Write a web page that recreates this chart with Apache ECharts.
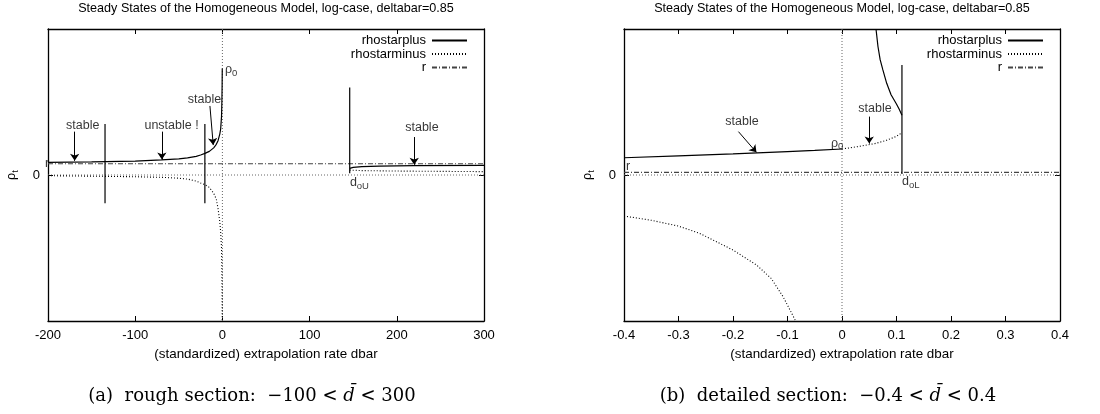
<!DOCTYPE html>
<html><head><meta charset="utf-8">
<script src="https://cdn.jsdelivr.net/npm/echarts@6/dist/echarts.min.js"></script>
<style>html,body{margin:0;padding:0;background:#fff}#c{width:1100px;height:414px}</style>
</head><body><div id="c"></div>
<script>
// ---------- text ----------
const chartTitle = 'Steady States of the Homogeneous Model, log-case, deltabar=0.85';
const xAxisTitle = '(standardized) extrapolation rate dbar';
const legendNames = ['rhostarplus', 'rhostarminus', 'r'];

// ---------- panel (a): rough section ----------
const aXTicks = [-200, -100, 0, 100, 200, 300];
const aPlusLeft = [[-200,0.087],[-150,0.090],[-100,0.095],[-70,0.103],[-50,0.110],[-40,0.117],[-30,0.128],[-25,0.137],[-20,0.148],[-15,0.162],[-10,0.186],[-7,0.21],[-5,0.235],[-3,0.28],[-2,0.315],[-1,0.40],[-0.6,0.5],[-0.3,0.62],[-0.15,0.73]];
const aMinusLeft = [[-200,-0.005],[-150,-0.008],[-100,-0.012],[-70,-0.016],[-50,-0.022],[-40,-0.028],[-30,-0.042],[-25,-0.055],[-20,-0.066],[-15,-0.085],[-10,-0.125],[-7,-0.165],[-5,-0.23],[-3,-0.32],[-2,-0.39],[-1,-0.5],[-0.6,-0.62],[-0.3,-0.8],[-0.15,-1.0]];
const aPlusRight = [[146,0.045],[150,0.052],[160,0.057],[180,0.061],[220,0.064],[300,0.066]];
const aMinusRight = [[146,0.034],[160,0.030],[200,0.027],[250,0.025],[300,0.023]];
const aR = 0.077;
const aVLines = [[-134.6,-0.194,0.35],[-20.1,-0.194,0.35],[146,0.012,0.6]];
const aArrows = [[[-169.4,0.297],[-169.4,0.097]],[[-69.4,0.297],[-69.4,0.106]],[[-14.3,0.473],[-10.5,0.205]],[[220,0.26],[220,0.07]]];
const aNotes = [['stable',-160.2,0.342,'c'],['unstable !',-58.3,0.342,'c'],['stable',-20.6,0.52,'c'],['stable',228.8,0.324,'c'],['{a|ρ}{s|0}',2.9,0.72,'l'],['{a|d}{s|oU}',146.2,-0.055,'l']];

// ---------- panel (b): detailed section ----------
const bXTicks = [-0.4, -0.3, -0.2, -0.1, 0, 0.1, 0.2, 0.3, 0.4];
const bPlusLeft = [[-0.4,0.118],[-0.3,0.131],[-0.2,0.145],[-0.1,0.160],[-0.05,0.168],[0,0.178]];
const bPlusUpper = [[0.0624,1.0],[0.066,0.88],[0.07,0.79],[0.075,0.72],[0.082,0.628],[0.09,0.55],[0.0994,0.49],[0.105,0.45],[0.11,0.41]];
const bMinusMid = [[0,0.178],[0.03,0.195],[0.06,0.215],[0.08,0.235],[0.1,0.265],[0.11,0.29]];
const bMinusLower = [[-0.4,-0.281],[-0.35,-0.31],[-0.3,-0.35],[-0.261,-0.40],[-0.2,-0.514],[-0.157,-0.616],[-0.13,-0.708],[-0.108,-0.834],[-0.086,-0.993]];
const bR = 0.018;
const bVLines = [[0.11,0.007,0.753]];
const bArrows = [[[-0.19,0.297],[-0.157,0.155]],[[0.05,0.40],[0.05,0.215]]];
const bNotes = [['stable',-0.1835,0.365,'c'],['stable',0.0606,0.452,'c'],['{a|ρ}{s|0}',-0.009,0.217,'c'],['{a|d}{s|oL}',0.11,-0.046,'l']];

// ---------- build ----------
const SANS = 'Liberation Sans, Arial, sans-serif';
const SERIF = 'DejaVu Serif, serif';
const BLACK = '#000';
const DOT = [1, 2];
const DASHDOT = [5, 2, 1, 2];
const rich = {a:{fontSize:12.5,fontFamily:SANS,color:BLACK}, s:{fontSize:9.5,fontFamily:SANS,color:BLACK,padding:[7,0,0,0]}};

const grids = [
  {left:48, right:616, top:29, bottom:93},
  {left:624, right:40, top:29, bottom:93}
];

function xAxes(gi, ticks){
  const mn = ticks[0], mx = ticks[ticks.length-1], iv = +(ticks[1]-ticks[0]).toFixed(6);
  const base = {type:'value', gridIndex:gi, min:mn, max:mx, interval:iv,
    axisLine:{show:true, onZero:false, lineStyle:{color:BLACK, width:1.3}},
    axisTick:{show:true, inside:true, length:5, lineStyle:{color:BLACK}},
    splitLine:{show:false}};
  return [
    Object.assign({}, base, {position:'bottom',
      axisLabel:{show:true, margin:8, color:BLACK, fontSize:13, fontFamily:SANS},
      name:xAxisTitle, nameLocation:'middle', nameGap:27,
      nameTextStyle:{color:BLACK, fontSize:13.4, fontFamily:SANS}}),
    Object.assign({}, base, {position:'top', axisLabel:{show:false}})
  ];
}
function yAxes(gi){
  const base = {type:'value', gridIndex:gi, min:-1, max:1, interval:1,
    axisLine:{show:true, onZero:false, lineStyle:{color:BLACK, width:1.3}},
    axisTick:{show:true, inside:true, length:5, lineStyle:{color:BLACK}},
    splitLine:{show:false}};
  return [
    Object.assign({}, base, {position:'left',
      axisLabel:{show:true, margin:8, color:BLACK, fontSize:13, fontFamily:SANS,
        formatter: v => (Math.abs(v) < 1e-9 ? '0' : '')},
      name:'{a|ρ}{s|t}', nameLocation:'middle', nameGap:28, nameRotate:90,
      nameTextStyle:{rich:rich}}),
    Object.assign({}, base, {position:'right', axisLabel:{show:false}})
  ];
}

const series = [];
function line(name, xi, yi, data, type, color, width, z){
  series.push({name:name, type:'line', xAxisIndex:xi, yAxisIndex:yi, data:data,
    symbol:'none', showSymbol:false, silent:true, z:z||3,
    lineStyle:{color:color, width:width, type:type}, itemStyle:{color:color}});
}
function panel(xi, yi, ticks, plusArr, minusArr, r, vlines, arrows, notes){
  const mn = ticks[0], mx = ticks[ticks.length-1];
  line('zx', xi, yi, [[mn,0],[mx,0]], DOT, '#666', 1, 1);
  line('zy', xi, yi, [[0,-1],[0,1]], DOT, '#666', 1, 1);
  plusArr.forEach(d => line('rhostarplus', xi, yi, d, 'solid', BLACK, 1.2, 4));
  minusArr.forEach(d => line('rhostarminus', xi, yi, d, DOT, BLACK, 1.1, 4));
  line('r', xi, yi, [[mn,r],[mx,r]], DASHDOT, '#444', 1.1, 3);
  vlines.forEach(v => line('mark', xi, yi, [[v[0],v[1]],[v[0],v[2]]], 'solid', BLACK, 1.2, 5));
  series.push({type:'lines', coordinateSystem:'cartesian2d', xAxisIndex:xi, yAxisIndex:yi, silent:true, z:6,
    symbol:['none','arrow'], symbolSize:7,
    lineStyle:{color:BLACK, width:1, opacity:1},
    data:arrows.map(a => ({coords:a}))});
  series.push({type:'scatter', xAxisIndex:xi, yAxisIndex:yi, symbolSize:0, silent:true, z:7,
    data:notes.map(n => ({value:[n[1],n[2]], label:{formatter:n[0], align:(n[3]==='l'?'left':'center')}})),
    label:{show:true, position:'inside', color:BLACK, fontSize:12.5, fontFamily:SANS, rich:rich}});
}
panel(0, 0, aXTicks, [aPlusLeft, aPlusRight], [aMinusLeft, aMinusRight], aR, aVLines, aArrows, aNotes);
panel(2, 2, bXTicks, [bPlusLeft, bPlusUpper], [bMinusMid, bMinusLower], bR, bVLines, bArrows, bNotes);
series.push({type:'scatter', xAxisIndex:0, yAxisIndex:0, symbolSize:0, silent:true, z:7,
  data:[{value:[aXTicks[0], aR]}], label:{show:true, position:'inside', formatter:'r', color:BLACK, fontSize:12.5, fontFamily:SANS, offset:[-1,0]}});
series.push({type:'scatter', xAxisIndex:2, yAxisIndex:2, symbolSize:0, silent:true, z:7,
  data:[{value:[bXTicks[0], bR]}], label:{show:true, position:'inside', formatter:'r', color:BLACK, fontSize:12.5, fontFamily:SANS, offset:[4,-6]}});

const legends = [];
[[632, 0], [56, 0]].forEach(p => {
  legendNames.forEach((nm, i) => {
    legends.push({data:[nm], orient:'vertical', right:p[0], top:34 + i*13.5, align:'right',
      itemWidth:35, itemHeight:8, itemGap:0, padding:0, selectedMode:false,
      itemStyle:{opacity:0, borderWidth:0},
      textStyle:{color:BLACK, fontSize:13, fontFamily:SANS, padding:[0,1,0,0]}});
  });
});

const cap = (x, txt) => ({type:'text', x:x, y:396, style:{text:txt, align:'center', verticalAlign:'middle',
  fill:BLACK, fontSize:18, fontFamily:SERIF,
  rich:{i:{fontStyle:'italic', fontSize:18, fontFamily:SERIF, fill:BLACK}}}});

const option = {
  animation:false,
  backgroundColor:'#fff',
  grid:grids,
  xAxis:[...xAxes(0, aXTicks), ...xAxes(1, bXTicks)],
  yAxis:[...yAxes(0), ...yAxes(1)],
  legend:legends,
  series:series,
  graphic:[
    {type:'text', x:266, y:9, style:{text:chartTitle, align:'center', verticalAlign:'middle', fill:BLACK, fontSize:12.6, fontFamily:SANS}},
    {type:'text', x:842, y:9, style:{text:chartTitle, align:'center', verticalAlign:'middle', fill:BLACK, fontSize:12.6, fontFamily:SANS}},
    cap(252, '(a)  rough section:  \u2212100 < {i|d\u0304} < 300'),
    cap(828, '(b)  detailed section:  \u22120.4 < {i|d\u0304} < 0.4')
  ]
};
const chart = echarts.init(document.getElementById('c'));
chart.setOption(option);
</script>
</body></html>
